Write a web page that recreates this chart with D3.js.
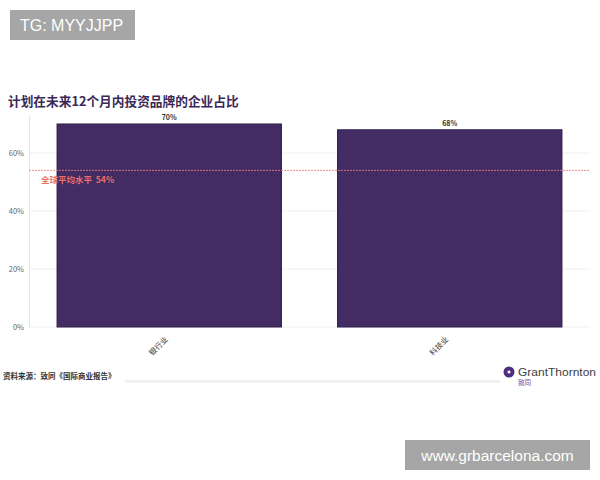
<!DOCTYPE html>
<html><head><meta charset="utf-8">
<script src="https://cdn.jsdelivr.net/npm/d3@7"></script>
<style>body{margin:0;background:#fff}svg{display:block}</style>
</head><body><svg id="c" width="600" height="480"></svg>
<script>
const categories = ["银行业", "科技业"];
const values = [0.70, 0.68];
const valueLabels = ["70%", "68%"];
const yTicks = [0, 0.2, 0.4, 0.6];
const avgValue = 0.54;
const avgLabel = "全球平均水平  54%";
const title = "计划在未来12个月内投资品牌的企业占比";
const source = "资料来源：致同《国际商业报告》";

const svg = d3.select("#c");
const font = "'Noto Sans CJK SC','Noto Sans',sans-serif";
const x = d3.scaleBand().domain(categories).range([29, 590]).paddingInner(0.2).paddingOuter(0.1);
const y = d3.scaleLinear().domain([0, 0.731]).range([327, 115]);

// title
svg.append("text").attr("x", 8).attr("y", 106).attr("font-family", font)
  .attr("font-size", 12.7).attr("font-weight", 700).attr("fill", "#3a2858").text(title);

// gridlines
svg.append("g").selectAll("line").data(yTicks).join("line")
  .attr("x1", 29).attr("x2", 590).attr("y1", d => y(d)).attr("y2", d => y(d))
  .attr("stroke", "#efefef").attr("stroke-width", 1);

// y axis
const yAxis = svg.append("g").attr("transform", "translate(29,0)")
  .call(d3.axisLeft(y).tickValues(yTicks).tickFormat(d3.format(".0%")).tickSize(0).tickPadding(5));
yAxis.select(".domain").attr("stroke", "#e6e6e6");
yAxis.selectAll("text").attr("font-family", font).attr("font-size", 7.5).attr("fill", "#666");

// bars
svg.append("g").selectAll("rect").data(values).join("rect")
  .attr("x", (d, i) => x(categories[i])).attr("width", x.bandwidth())
  .attr("y", d => y(d)).attr("height", d => y(0) - y(d))
  .attr("fill", "#432c63").attr("stroke", "#2f1f4a").attr("stroke-width", 1);

// value labels
svg.append("g").selectAll("text").data(values).join("text")
  .attr("x", (d, i) => x(categories[i]) + x.bandwidth() / 2).attr("y", d => y(d) - 4)
  .attr("text-anchor", "middle").attr("font-family", font).attr("font-size", 7)
  .attr("font-weight", 700).attr("fill", "#333").text((d, i) => valueLabels[i]);

// average line
svg.append("line").attr("x1", 29).attr("x2", 590).attr("y1", y(avgValue)).attr("y2", y(avgValue))
  .attr("stroke", "#e88080").attr("stroke-width", 1).attr("stroke-dasharray", "2,1").attr("opacity", 0.85);
svg.append("text").attr("x", 41).attr("y", y(avgValue) + 13).attr("font-family", font)
  .attr("font-size", 8.5).attr("font-weight", 700).attr("fill", "#e9706c").attr("xml:space", "preserve")
  .style("white-space", "pre").text(avgLabel);

// x labels
svg.append("g").selectAll("text").data(categories).join("text")
  .attr("transform", d => `translate(${x(d) + x.bandwidth() / 2 - 1},${340}) rotate(-45)`)
  .attr("text-anchor", "end").attr("font-family", font).attr("font-size", 7.5)
  .attr("fill", "#333").text(d => d);

// source
svg.append("text").attr("x", 3).attr("y", 379).attr("font-family", font).attr("font-size", 7.5)
  .attr("font-weight", 700).attr("fill", "#333").text(source);
svg.append("line").attr("x1", 125).attr("x2", 500).attr("y1", 381.5).attr("y2", 381.5)
  .attr("stroke", "#f1f1f1").attr("stroke-width", 3);

// logo
const lg = svg.append("g").attr("transform", "translate(509,372)");
lg.append("circle").attr("r", 5.5).attr("fill", "#4f2d7f");
lg.append("path").attr("d", "M-1.6,-1 L1,-1.6 L1.6,1 L-1,1.6 Z").attr("fill", "#fff");
svg.append("text").attr("x", 518).attr("y", 375.5).attr("font-family", "'Liberation Sans',Arial,sans-serif")
  .attr("font-size", 10).attr("textLength", 78).attr("lengthAdjust", "spacingAndGlyphs")
  .attr("fill", "#3f3f3f").text("GrantThornton");
svg.append("text").attr("x", 518).attr("y", 385).attr("font-family", font)
  .attr("font-size", 6.5).attr("fill", "#6a4a9a").text("致同");

// watermark boxes
svg.append("rect").attr("x", 10).attr("y", 10).attr("width", 125).attr("height", 30).attr("fill", "#a6a6a6");
svg.append("text").attr("x", 20).attr("y", 31).attr("font-family", "'Liberation Sans',Arial,sans-serif")
  .attr("font-size", 16).attr("fill", "#fff").text("TG: MYYJJPP");
svg.append("rect").attr("x", 405).attr("y", 440).attr("width", 185).attr("height", 30).attr("fill", "#a6a6a6");
svg.append("text").attr("x", 497.5).attr("y", 461).attr("text-anchor", "middle")
  .attr("font-family", "'Liberation Sans',Arial,sans-serif")
  .attr("font-size", 15.5).attr("fill", "#fff").text("www.grbarcelona.com");
</script></body></html>
